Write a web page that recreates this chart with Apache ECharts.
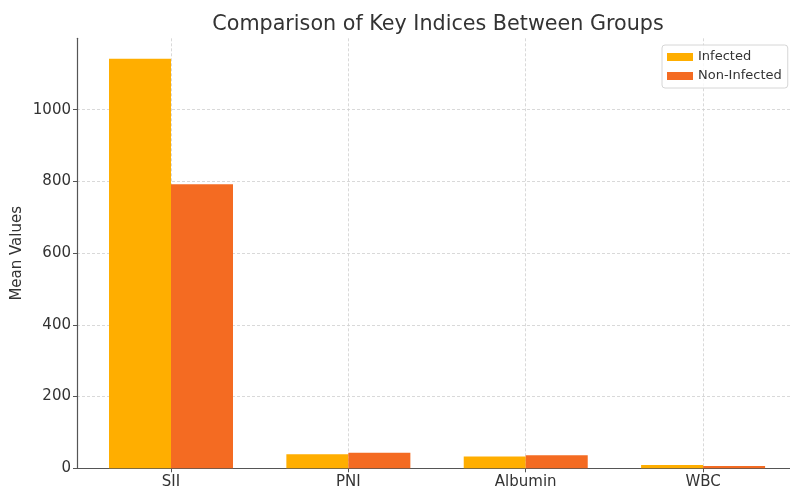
<!DOCTYPE html>
<html>
<head>
<meta charset="utf-8">
<script src="https://cdn.jsdelivr.net/npm/echarts@6/dist/echarts.min.js"></script>
<style>
html,body{margin:0;padding:0;background:#fff;}
#chart{width:790px;height:486px;}
</style>
</head>
<body>
<div id="chart"></div>
<script>
const categories = ['SII', 'PNI', 'Albumin', 'WBC'];
const infected = [1141.7, 39, 32.6, 9.5];
const nonInfected = [792, 43.7, 36.3, 6.5];
const yTicks = [0, 200, 400, 600, 800, 1000];
const xTicks = [0, 1, 2, 3];

const font = 'DejaVu Sans';
const chart = echarts.init(document.getElementById('chart'), null, {renderer: 'canvas'});
chart.setOption({
  animation: false,
  backgroundColor: '#fff',
  title: {
    text: 'Comparison of Key Indices Between Groups',
    left: 433, top: 9, textAlign: 'center',
    textStyle: {fontFamily: font, fontSize: 20.7, fontWeight: 'normal', color: '#333'}
  },
  legend: {
    orient: 'vertical', left: 662, top: 45,
    icon: 'rect',
    itemWidth: 26, itemHeight: 8, itemGap: 3,
    padding: [4, 6, 4, 5],
    borderColor: '#d6d6d6', borderWidth: 1, borderRadius: 3,
    backgroundColor: 'rgba(255,255,255,0.8)',
    textStyle: {fontFamily: font, fontSize: 13, color: '#333', lineHeight: 16},
    data: ['Infected', 'Non-Infected']
  },
  grid: {left: 77, right: 0, top: 38.3, height: 430, containLabel: false, outerBoundsMode: 'none'},
  xAxis: {
    type: 'value', min: -0.53, max: 3.49,
    axisLine: {show: true, lineStyle: {color: '#555', width: 1.2}},
    axisTick: {show: true, customValues: xTicks, length: 4, lineStyle: {color: '#555'}},
    axisLabel: {customValues: xTicks, margin: 6, fontFamily: font, fontSize: 15, color: '#333',
      formatter: v => categories[Math.round(v)] || ''},
    splitLine: {show: true, lineStyle: {color: '#cfcfcf', type: [3, 2], width: 0.8}}
  },
  yAxis: {
    type: 'value', min: 0, max: 1199,
    name: 'Mean Values', nameLocation: 'middle', nameGap: 52, nameMoveOverlap: false,
    nameTextStyle: {fontFamily: font, fontSize: 15, color: '#333'},
    axisLine: {show: true, onZero: false, lineStyle: {color: '#555', width: 1.2}},
    axisTick: {show: true, customValues: yTicks, length: 4, lineStyle: {color: '#555'}},
    axisLabel: {customValues: yTicks, margin: 6, fontFamily: font, fontSize: 15, color: '#333',
      formatter: v => String(v)},
    splitLine: {show: true, lineStyle: {color: '#cfcfcf', type: [3, 2], width: 0.8}}
  },
  series: [
    {name: 'Infected', type: 'bar', barWidth: 62, barGap: '0%',
     itemStyle: {color: '#FFAE00'},
     data: infected.map((v, i) => [xTicks[i], v])},
    {name: 'Non-Infected', type: 'bar', barWidth: 62, barGap: '0%',
     itemStyle: {color: '#F46B22'},
     data: nonInfected.map((v, i) => [xTicks[i], v])}
  ]
});
</script>
</body>
</html>
